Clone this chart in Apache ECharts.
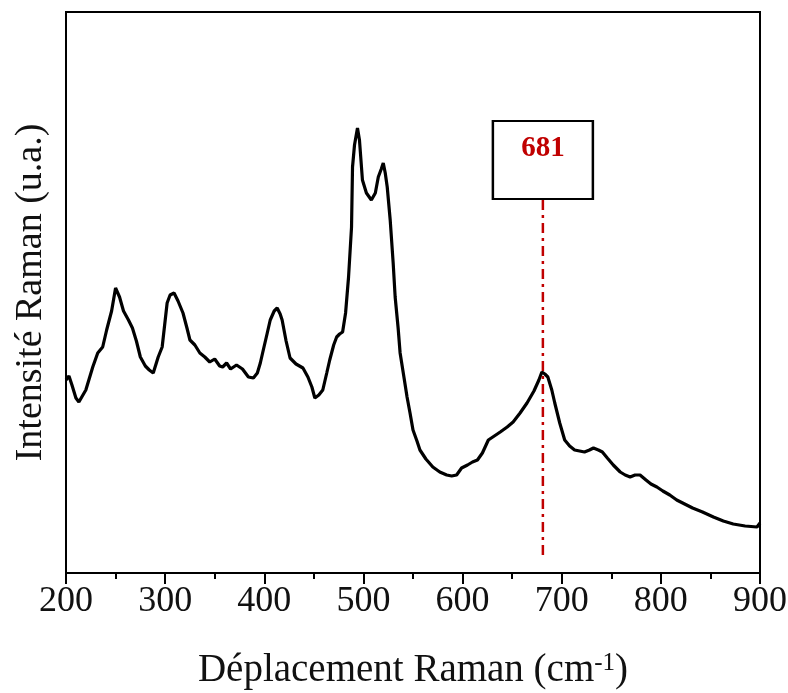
<!DOCTYPE html>
<html>
<head>
<meta charset="utf-8">
<script src="https://cdn.jsdelivr.net/npm/echarts@6/dist/echarts.min.js"></script>
<style>
  html, body { margin: 0; padding: 0; background: #fff; }
  #chart { width: 788px; height: 693px; }
</style>
</head>
<body>
<div id="chart"></div>
<script>
// Raman shift (cm-1)
var ramanShift = [200, 203, 206, 210, 213, 220, 227, 232, 237, 241, 246, 250, 254, 258, 263, 267, 271, 275, 280, 284, 288, 290, 293, 297, 302, 305, 309, 313, 318, 322, 325, 330, 335, 340, 345, 350, 355, 358, 362, 366, 372, 378, 384, 389, 393, 396, 399, 403, 406, 410, 413, 416, 418, 422, 426, 432, 439, 444, 448, 451, 455, 459, 463, 466, 470, 473, 476, 479, 482, 485, 488, 489, 491, 494, 496, 499, 503, 508, 512, 515, 518, 520, 522, 524, 527, 530, 532, 535, 537, 541, 544, 547, 550, 554, 557, 563, 570, 577, 584, 589, 594, 599, 605, 610, 615, 620, 626, 632, 638, 645, 651, 658, 665, 672, 677, 680, 683, 686, 690, 693, 698, 703, 708, 713, 718, 723, 728, 732, 737, 741, 746, 752, 759, 764, 769, 774, 779, 785, 790, 796, 802, 809, 816, 824, 832, 842, 853, 863, 873, 885, 897, 900];
// Raman intensity (arbitrary units)
var intensity = [193, 197, 188, 175, 171, 183, 206, 220, 226, 243, 262, 285, 276, 262, 253, 245, 232, 216, 207, 203, 200, 201, 216, 226, 270, 278, 280, 272, 260, 245, 233, 228, 220, 216, 211, 214, 207, 206, 210, 204, 208, 204, 196, 195, 200, 210, 223, 240, 253, 262, 265, 259, 253, 232, 215, 209, 205, 196, 186, 175, 178, 183, 200, 213, 228, 236, 239, 241, 260, 296, 346, 406, 428, 445, 433, 393, 380, 373, 380, 396, 404, 410, 400, 386, 353, 310, 276, 245, 220, 195, 176, 160, 143, 132, 123, 114, 106, 101, 98, 97, 98, 105, 108, 111, 113, 120, 133, 137, 141, 146, 151, 160, 170, 182, 193, 201, 199, 196, 183, 170, 150, 133, 127, 123, 122, 121, 123, 125, 123, 121, 115, 108, 101, 98, 96, 98, 98, 93, 89, 86, 82, 78, 73, 69, 65, 61, 56, 52, 49, 47, 46, 50];
// x-axis ticks
var xTicks = [200, 300, 400, 500, 600, 700, 800, 900];
// annotated peak
var peakLabel = ['681'];
var peakShift = [681];

var serif = "'Liberation Serif', 'Times New Roman', serif";
var chart = echarts.init(document.getElementById('chart'), null, { renderer: 'canvas' });

var mainData = ramanShift.map(function (x, i) { return [x, intensity[i]]; });
var boxCenterY = 413;   // annotation box vertical centre (axis units)
var dashTop = 374, dashBottom = 18;

chart.setOption({
  animation: false,
  backgroundColor: '#fff',
  grid: {
    left: 66, right: 28, top: 12, bottom: 120,
    outerBoundsMode: 'none', containLabel: false,
    show: true, borderColor: '#000', borderWidth: 2, backgroundColor: 'transparent'
  },
  xAxis: {
    type: 'value',
    min: xTicks[0], max: xTicks[xTicks.length - 1], interval: 100,
    name: '{a|Déplacement Raman (cm}{sup|-1}{a|)}',
    nameLocation: 'middle', nameGap: 78,
    nameTextStyle: {
      rich: {
        a: { fontFamily: serif, fontSize: 39, color: '#111' },
        sup: { fontFamily: serif, fontSize: 25, color: '#111', verticalAlign: 'top' }
      }
    },
    axisLine: { show: true, onZero: false, lineStyle: { color: '#000', width: 2 } },
    axisTick: { show: true, inside: false, length: 11, lineStyle: { color: '#000', width: 2 } },
    minorTick: { show: true, splitNumber: 2, length: 6, lineStyle: { color: '#000', width: 2 } },
    axisLabel: { fontFamily: serif, fontSize: 36, color: '#111', margin: 11 },
    splitLine: { show: false },
    minorSplitLine: { show: false }
  },
  yAxis: {
    type: 'value', min: 0, max: 561,
    name: 'Intensité Raman (u.a.)',
    nameLocation: 'middle', nameGap: 16,
    nameTextStyle: { fontFamily: serif, fontSize: 38, color: '#111' },
    axisLine: { show: true, lineStyle: { color: '#000', width: 2 } },
    axisTick: { show: false },
    axisLabel: { show: false },
    splitLine: { show: false }
  },
  series: [
    {
      type: 'line',
      data: mainData,
      showSymbol: false,
      symbol: 'none',
      lineStyle: { color: '#000', width: 3.2 },
      z: 3
    },
    {
      type: 'line',
      data: [[peakShift[0], dashBottom], [peakShift[0], dashTop]],
      showSymbol: false,
      symbol: 'none',
      lineStyle: { color: '#c00000', width: 2.5, type: [10, 5, 3, 5] },
      z: 4
    },
    {
      type: 'scatter',
      data: [[peakShift[0], boxCenterY]],
      symbol: 'rect',
      symbolSize: [100, 78],
      itemStyle: { color: '#fff', borderColor: '#000', borderWidth: 2.2, opacity: 1 },
      label: {
        show: true, position: 'inside', formatter: peakLabel[0],
        fontFamily: serif, fontSize: 29, fontWeight: 'bold', color: '#c00000',
        textBorderWidth: 0, textBorderColor: 'transparent', opacity: 1,
        offset: [0, -11]
      },
      emphasis: { disabled: true },
      z: 5
    }
  ]
});
</script>
</body>
</html>
